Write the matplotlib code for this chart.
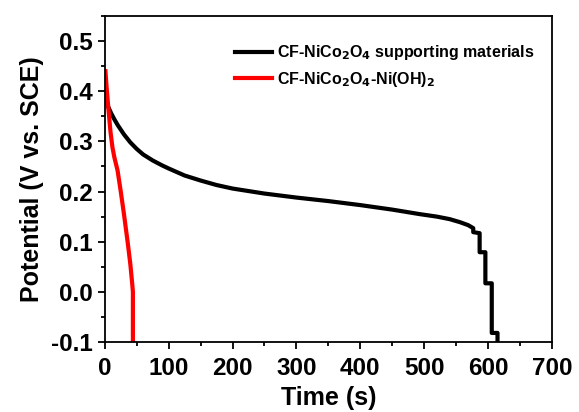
import matplotlib
matplotlib.use("Agg")
import matplotlib.pyplot as plt
from matplotlib.ticker import MultipleLocator

plt.rcParams['font.family'] = ['Liberation Sans', 'DejaVu Sans']
plt.rcParams['font.weight'] = 'bold'
plt.rcParams['mathtext.default'] = 'bf'

# CF-NiCo2O4 supporting materials
t_black = [0, 5, 10, 15, 20, 30, 40, 50, 60, 75, 90, 100, 125, 150, 175, 200, 250, 300,
           350, 400, 450, 493, 520, 540, 556, 569, 577, 577, 587, 587, 596, 596, 606, 606,
           615, 615]
v_black = [0.39, 0.37, 0.356, 0.344, 0.333, 0.314, 0.298, 0.285, 0.274, 0.262, 0.252,
           0.246, 0.232, 0.222, 0.213, 0.206, 0.196, 0.188, 0.181, 0.173, 0.164, 0.155,
           0.15, 0.145, 0.139, 0.133, 0.127, 0.119, 0.117, 0.079, 0.079, 0.017, 0.017,
           -0.082, -0.082, -0.1]

# CF-NiCo2O4-Ni(OH)2
t_red = [1, 3, 6, 9, 12, 15, 20, 25, 30, 36, 40, 43, 44, 44]
v_red = [0.44, 0.405, 0.36, 0.318, 0.288, 0.268, 0.242, 0.2, 0.155, 0.097, 0.055, 0.015,
         0.0, -0.1]

fig = plt.figure(figsize=(5.79, 4.12), dpi=100)
ax = fig.add_axes([0.181, 0.170, 0.772, 0.791])

ax.plot(t_black, v_black, color='black', lw=3, label=r'CF-NiCo$_2$O$_4$ supporting materials')
ax.plot(t_red, v_red, color='#ff0000', lw=3, label=r'CF-NiCo$_2$O$_4$-Ni(OH)$_2$')

ax.set_xlim(0, 700)
ax.set_ylim(-0.1, 0.55)
ax.xaxis.set_major_locator(MultipleLocator(100))
ax.xaxis.set_minor_locator(MultipleLocator(50))
ax.yaxis.set_minor_locator(MultipleLocator(0.05))
ax.set_yticks([-0.1, 0.0, 0.1, 0.2, 0.3, 0.4, 0.5])
ax.set_yticklabels(['-0.1', '0.0', '0.1', '0.2', '0.3', '0.4', '0.5'])

ax.tick_params(which='major', direction='out', length=5, width=1.3, labelsize=17.5)
ax.tick_params(axis='x', which='major', pad=6)
ax.tick_params(which='minor', direction='out', length=3, width=1.3)
for s in ax.spines.values():
    s.set_linewidth(1.3)

ax.set_xlabel('Time (s)', fontsize=18, fontweight='bold', labelpad=4)
ax.set_ylabel('Potential (V vs. SCE)', fontsize=18, fontweight='bold', labelpad=5)

leg = ax.legend(loc='upper left', bbox_to_anchor=(0.26, 0.96), frameon=False,
                fontsize=11.5, handlelength=2.3, handletextpad=0.3, labelspacing=0.45)

fig.savefig('out.png', dpi=100)
